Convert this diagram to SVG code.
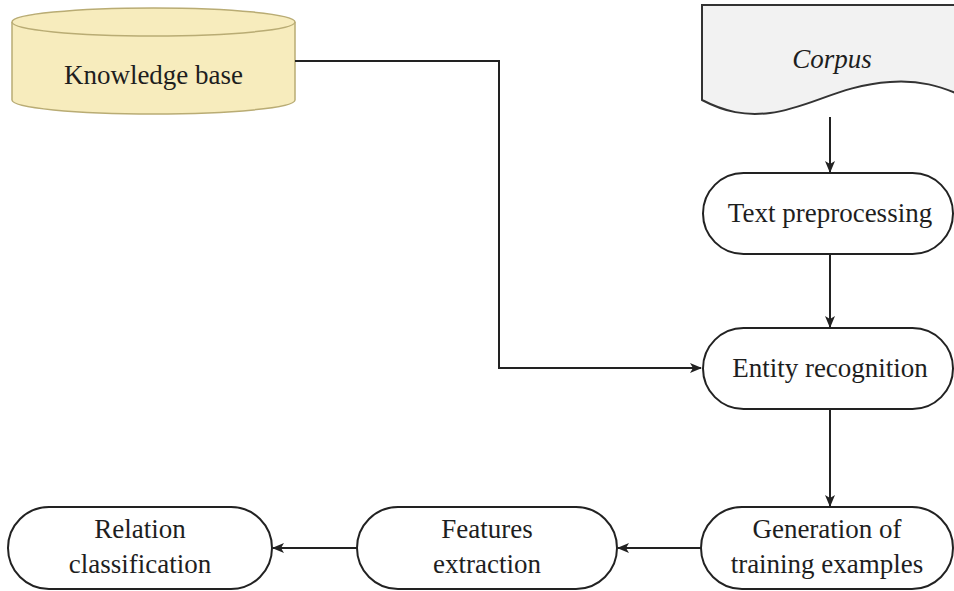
<svg xmlns="http://www.w3.org/2000/svg" width="954" height="591" viewBox="0 0 954 591">
  <style>
    .box { fill: #ffffff; stroke: #222222; stroke-width: 2; }
    .label { font-size: 27px; fill: #1e1e1e; text-anchor: middle; }
    .edge { fill: none; stroke: #222222; stroke-width: 2; }
  </style>
  <defs>
    <marker id="arrow" viewBox="0 0 12 12" refX="11" refY="6" markerWidth="12" markerHeight="12" markerUnits="userSpaceOnUse" orient="auto">
      <path d="M0,1 L12,6 L0,11 L3,6 Z" fill="#222222"/>
    </marker>
  </defs>

  <g font-family="'Liberation Serif', 'Times New Roman', 'DejaVu Serif', serif">
  <!-- data store: knowledge base -->
  <g id="knowledge-base">
    <path d="M12,22 V100 A141.5,14 0 0 0 295,100 V22" fill="#f7ecbd" stroke="#b9ac74" stroke-width="1.5"/>
    <ellipse cx="153.5" cy="22" rx="141.5" ry="14" fill="#f7ecbd" stroke="#b9ac74" stroke-width="1.5"/>
    <text class="label" x="153.5" y="84">Knowledge base</text>
  </g>

  <!-- document: corpus -->
  <g id="corpus">
    <path d="M702,5 H960 V95 C940,86 920,80 890,82 C840,85 810,108 770,113 C745,116 725,112 702,100 Z" fill="#f2f2f2" stroke="#333333" stroke-width="2"/>
    <text class="label" x="832" y="68" font-style="italic">Corpus</text>
  </g>

  <g id="text-preprocessing">
    <rect class="box" x="703" y="173" width="250" height="81" rx="40.5"/>
    <text class="label" x="830" y="222">Text preprocessing</text>
  </g>

  <g id="entity-recognition">
    <rect class="box" x="703" y="328" width="250" height="81" rx="40.5"/>
    <text class="label" x="830" y="377">Entity recognition</text>
  </g>

  <g id="generation">
    <rect class="box" x="701" y="507" width="252" height="82" rx="41"/>
    <text class="label" x="827" y="538">Generation of</text>
    <text class="label" x="827" y="573">training examples</text>
  </g>

  <g id="features-extraction">
    <rect class="box" x="357" y="507" width="260" height="82" rx="41"/>
    <text class="label" x="487" y="538">Features</text>
    <text class="label" x="487" y="573">extraction</text>
  </g>

  <g id="relation-classification">
    <rect class="box" x="8" y="507" width="264" height="82" rx="41"/>
    <text class="label" x="140" y="538">Relation</text>
    <text class="label" x="140" y="573">classification</text>
  </g>
  </g>

  <g id="connectors">
    <path class="edge" d="M295,61 H499 V368 H701" marker-end="url(#arrow)"/>
    <path class="edge" d="M830,117 V172" marker-end="url(#arrow)"/>
    <path class="edge" d="M830,254 V327" marker-end="url(#arrow)"/>
    <path class="edge" d="M830,409 V506" marker-end="url(#arrow)"/>
    <path class="edge" d="M701,548 H618" marker-end="url(#arrow)"/>
    <path class="edge" d="M357,548 H273" marker-end="url(#arrow)"/>
  </g>
</svg>
